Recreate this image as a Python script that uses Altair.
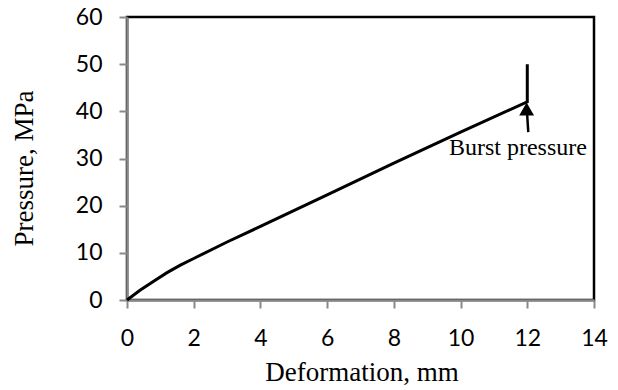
import altair as alt
import pandas as pd

# curve data
deformation = [0, 0.4, 0.8, 1.2, 1.6, 2.0, 3.0, 4.0, 6.0, 8.0, 10.0, 12.0, 12.0]
pressure = [0, 2.1, 4.0, 5.8, 7.4, 8.8, 12.3, 15.6, 22.3, 29.0, 35.6, 42.0, 50.0]

# annotation
arrow_x = [12.03, 11.98]
arrow_y = [35.6, 41.2]
head_x = [11.98]
head_y = [40.5]
label_x = [11.72]
label_y = [30.7]
label_text = ["Burst pressure"]

x_ticks = [0, 2, 4, 6, 8, 10, 12, 14]
y_ticks = [0, 10, 20, 30, 40, 50, 60]

curve = pd.DataFrame({"x": deformation, "y": pressure, "o": list(range(len(deformation)))})
arrow = pd.DataFrame({"x": arrow_x, "y": arrow_y, "o": [0, 1]})
head = pd.DataFrame({"x": head_x, "y": head_y})
label = pd.DataFrame({"x": label_x, "y": label_y, "t": label_text})

xs = alt.Scale(domain=[0, 14], nice=False, zero=False)
ys = alt.Scale(domain=[0, 60], nice=False, zero=False)

gray = "#898989"
x_axis = alt.Axis(
    values=x_ticks, title="Deformation, mm", grid=False, labelFlush=False,
    domainColor=gray, domainWidth=2.5, tickColor=gray, tickWidth=2, tickSize=8,
    labelFont="Lato", labelFontSize=23, labelColor="black", labelPadding=19,
    titleFont="Liberation Serif", titleFontSize=27, titleFontWeight="normal", titleColor="black",
    titleX=234.5, titleY=72, titleBaseline="middle",
)
y_axis = alt.Axis(
    values=y_ticks, title="Pressure, MPa", grid=False, labelFlush=False,
    domainColor=gray, domainWidth=2.5, tickColor=gray, tickWidth=2, tickSize=8,
    labelFont="Lato", labelFontSize=23, labelColor="black", labelPadding=17,
    titleFont="Liberation Serif", titleFontSize=27, titleFontWeight="normal", titleColor="black",
    titleX=-103, titleY=151, titleBaseline="middle",
)

line = alt.Chart(curve).mark_line(color="black", strokeWidth=3).encode(
    x=alt.X("x:Q", scale=xs, axis=x_axis),
    y=alt.Y("y:Q", scale=ys, axis=y_axis),
    order="o:Q",
)
arrow_line = alt.Chart(arrow).mark_line(color="black", strokeWidth=2.5).encode(
    x=alt.X("x:Q", scale=xs), y=alt.Y("y:Q", scale=ys), order="o:Q"
)
arrow_head = alt.Chart(head).mark_point(
    shape="triangle-up", filled=True, color="black", size=220, opacity=1
).encode(x=alt.X("x:Q", scale=xs), y=alt.Y("y:Q", scale=ys))
text = alt.Chart(label).mark_text(
    font="Liberation Serif", fontSize=24, color="black", align="center", baseline="alphabetic"
).encode(x=alt.X("x:Q", scale=xs), y=alt.Y("y:Q", scale=ys), text="t:N")

chart = alt.layer(line, arrow_line, arrow_head, text).properties(
    width=467, height=283,
    autosize=alt.AutoSizeParams(type="none"),
    padding={"left": 127, "top": 17, "right": 24, "bottom": 90},
    background="white",
).configure_view(stroke="black", strokeWidth=2.5)

chart.save("out.html", embed_options={"renderer": "svg", "actions": False})
